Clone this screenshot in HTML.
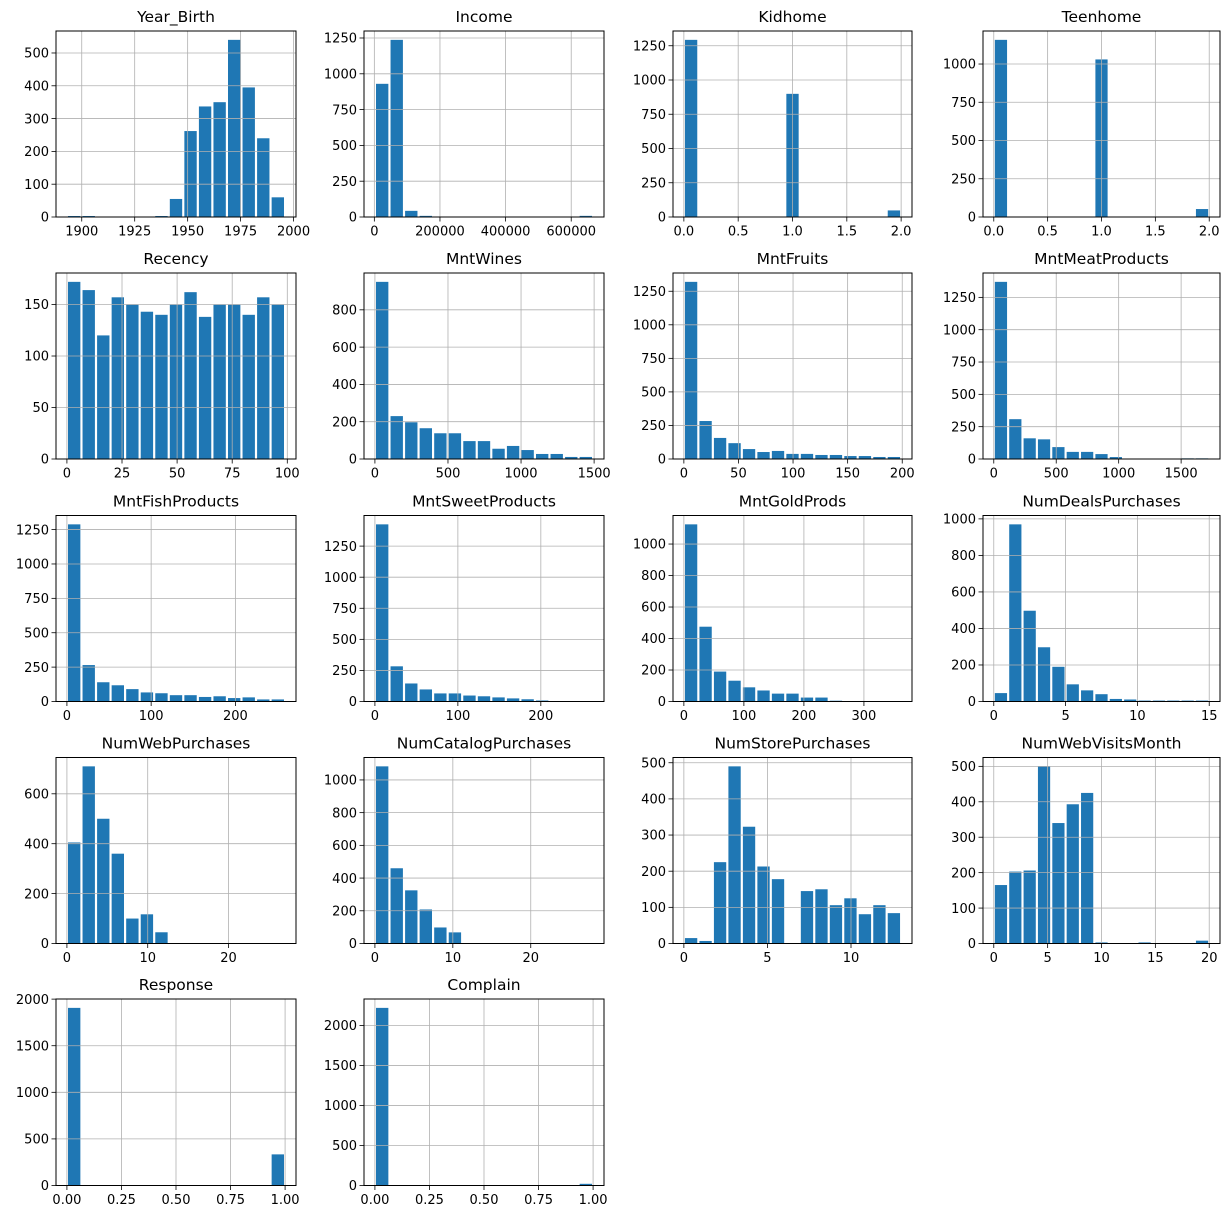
<!DOCTYPE html>
<html><head><meta charset="utf-8">
<style>
html,body{margin:0;padding:0;background:#fff;}
svg{display:block;font-family:"DejaVu Sans","Liberation Sans",sans-serif;}
</style></head>
<body>
<svg id="fig" width="1229" height="1219" viewBox="0 0 1229 1219" xmlns="http://www.w3.org/2000/svg"></svg>
<script>
// ---- data (15 bins each) ----
const titles = ["Year_Birth","Income","Kidhome","Teenhome","Recency","MntWines","MntFruits","MntMeatProducts","MntFishProducts","MntSweetProducts","MntGoldProds","NumDealsPurchases","NumWebPurchases","NumCatalogPurchases","NumStorePurchases","NumWebVisitsMonth","Response","Complain"];
const yearBirthCounts = [3,3,0,0,0,0,3,55,262,337,350,540,395,240,60];
const incomeCounts = [930,1237,43,8,0,0,0,0,0,0,0,0,0,0,8];
const kidhomeCounts = [1293,0,0,0,0,0,0,899,0,0,0,0,0,0,48];
const teenhomeCounts = [1158,0,0,0,0,0,0,1030,0,0,0,0,0,0,52];
const recencyCounts = [172,164,120,157,150,143,140,150,162,138,150,150,140,157,150];
const wineCounts = [950,230,197,165,138,138,96,96,55,70,48,27,27,11,11];
const fruitCounts = [1320,283,157,118,74,52,60,38,38,30,30,22,22,15,15];
const meatCounts = [1370,308,160,152,92,55,55,38,15,0,0,0,0,5,5];
const fishCounts = [1288,265,140,118,90,66,60,46,46,33,38,25,30,15,15];
const sweetCounts = [1425,283,145,97,65,65,48,42,33,25,18,8,0,0,1];
const goldCounts = [1125,475,190,132,90,70,50,50,25,25,5,0,0,0,1];
const dealsCounts = [46,970,497,297,190,94,61,40,14,11,5,5,5,5,5];
const webPurchCounts = [405,710,500,360,100,117,45,0,0,0,0,0,0,1,2];
const catalogCounts = [1083,460,325,208,98,68,0,0,0,0,0,0,0,1,3];
const storeCounts = [15,7,225,490,323,213,178,0,145,150,106,125,81,106,84];
const webVisitCounts = [165,203,206,500,340,393,425,3,0,0,3,0,0,0,8];
const responseCounts = [1906,0,0,0,0,0,0,0,0,0,0,0,0,0,334];
const complainCounts = [2219,0,0,0,0,0,0,0,0,0,0,0,0,0,21];
const allCounts = [yearBirthCounts,incomeCounts,kidhomeCounts,teenhomeCounts,recencyCounts,wineCounts,fruitCounts,meatCounts,fishCounts,sweetCounts,goldCounts,dealsCounts,webPurchCounts,catalogCounts,storeCounts,webVisitCounts,responseCounts,complainCounts];
const dataMin = [1893,1730,0,0,0,0,0,0,0,0,0,0,0,0,0,0,0,0];
const dataMax = [1996,666666,2,2,99,1493,199,1725,259,263,362,15,27,28,13,20,1,1];
const xTicks = [
 [1900,1925,1950,1975,2000],[0,200000,400000,600000],[0,0.5,1,1.5,2],[0,0.5,1,1.5,2],
 [0,25,50,75,100],[0,500,1000,1500],[0,50,100,150,200],[0,500,1000,1500],
 [0,100,200],[0,100,200],[0,100,200,300],[0,5,10,15],
 [0,10,20],[0,10,20],[0,5,10],[0,5,10,15,20],
 [0,0.25,0.5,0.75,1],[0,0.25,0.5,0.75,1]];
const xTickLabels = [
 ["1900","1925","1950","1975","2000"],["0","200000","400000","600000"],["0.0","0.5","1.0","1.5","2.0"],["0.0","0.5","1.0","1.5","2.0"],
 ["0","25","50","75","100"],["0","500","1000","1500"],["0","50","100","150","200"],["0","500","1000","1500"],
 ["0","100","200"],["0","100","200"],["0","100","200","300"],["0","5","10","15"],
 ["0","10","20"],["0","10","20"],["0","5","10"],["0","5","10","15","20"],
 ["0.00","0.25","0.50","0.75","1.00"],["0.00","0.25","0.50","0.75","1.00"]];
const yTicks = [
 [0,100,200,300,400,500],[0,250,500,750,1000,1250],[0,250,500,750,1000,1250],[0,250,500,750,1000],
 [0,50,100,150],[0,200,400,600,800],[0,250,500,750,1000,1250],[0,250,500,750,1000,1250],
 [0,250,500,750,1000,1250],[0,250,500,750,1000,1250],[0,200,400,600,800,1000],[0,200,400,600,800,1000],
 [0,200,400,600],[0,200,400,600,800,1000],[0,100,200,300,400,500],[0,100,200,300,400,500],
 [0,500,1000,1500,2000],[0,500,1000,1500,2000]];

// ---- layout ----
const colLeft = [56,364,673,983];
const colRight = [296,604,912,1220];
const rowTop = [31,273,515.5,757.5,999];
const rowBottom = [217,459,701.5,943.5,1185.5];
const NS = "http://www.w3.org/2000/svg";
const svg = document.getElementById('fig');
function mk(tag, attrs, parent){
  const e = document.createElementNS(NS, tag);
  for (const k in attrs) e.setAttribute(k, attrs[k]);
  (parent||svg).appendChild(e);
  return e;
}
function slug(s){return s.replace(/([a-z])([A-Z])/g,'$1-$2').replace(/_/g,'-').toLowerCase();}

titles.forEach((title, idx) => {
  const r = Math.floor(idx/4), c = idx%4;
  const L = colLeft[c], R = colRight[c], T = rowTop[r], B = rowBottom[r];
  const counts = allCounts[idx];
  const lo = dataMin[idx], hi = dataMax[idx];
  const span = hi - lo;
  const xmin = lo - 0.05*span, xmax = hi + 0.05*span;
  const ymax = Math.max(...counts)*1.05;
  const xs = v => L + (v - xmin)/(xmax - xmin)*(R - L);
  const ys = v => B - v/ymax*(B - T);
  const g = mk('g', {});
  
  
  // bars
  const w = span/counts.length;
  counts.forEach((v, i) => {
    if (v <= 0) return;
    const x0 = lo + i*w + w*0.075, x1 = lo + (i+1)*w - w*0.075;
    const b = mk('rect', {x:xs(x0), y:ys(v), width:xs(x1)-xs(x0), height:B-ys(v), fill:'#1f77b4'}, g);
    
    
  });
  // grid lines above bars
  xTicks[idx].forEach(t => {
    const gl = mk('line', {x1:xs(t), x2:xs(t), y1:T, y2:B, stroke:'#b0b0b0','stroke-width':0.8}, g);
    
    
  });
  yTicks[idx].forEach(t => {
    const gl = mk('line', {x1:L, x2:R, y1:ys(t), y2:ys(t), stroke:'#b0b0b0','stroke-width':0.8}, g);
    
    
  });
  // frame
  const fr = mk('rect', {x:L, y:T, width:R-L, height:B-T, fill:'none', stroke:'#000','stroke-width':1}, g);
  
  
  // x ticks
  xTicks[idx].forEach((t, k) => {
    mk('line', {x1:xs(t), x2:xs(t), y1:B, y2:B+4.5, stroke:'#000','stroke-width':0.8}, g);
    const tx = mk('text', {x:xs(t), y:B+18.5, 'text-anchor':'middle','font-size':13, fill:'#000'}, g);
    tx.textContent = xTickLabels[idx][k];
    
    
  });
  // y ticks
  yTicks[idx].forEach(t => {
    mk('line', {x1:L-4.5, x2:L, y1:ys(t), y2:ys(t), stroke:'#000','stroke-width':0.8}, g);
    const ty = mk('text', {x:L-7, y:ys(t)+4.7, 'text-anchor':'end','font-size':13, fill:'#000'}, g);
    ty.textContent = String(t);
    
    
  });
  const tt = mk('text', {x:(L+R)/2, y:T-9, 'text-anchor':'middle','font-size':15.5, fill:'#000'}, g);
  tt.textContent = title;
  
  
});
</script>
</body></html>
